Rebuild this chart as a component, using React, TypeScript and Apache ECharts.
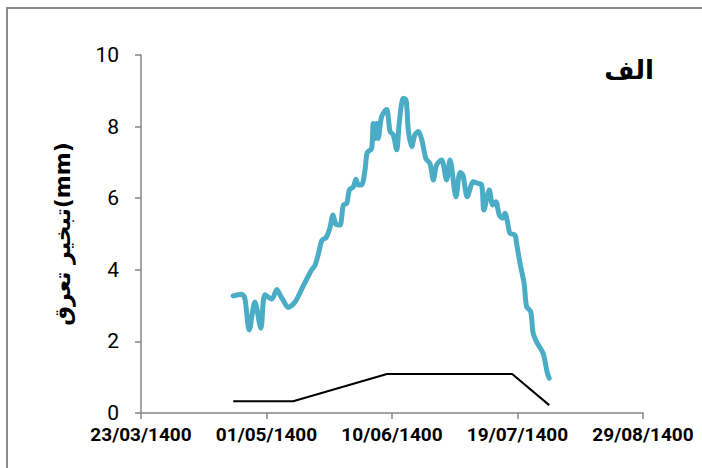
import React, { useEffect, useRef } from "react";
import * as echarts from "echarts";

// x = days after 23/03/1400
const tickLabels = ["23/03/1400", "01/05/1400", "10/06/1400", "19/07/1400", "29/08/1400"];
const yTicks = [0, 2, 4, 6, 8, 10];

const etDays = [
  29.4, 32.1, 33.1, 34.5, 36.3, 38.2, 39.5, 41.7, 43.3, 44.3, 45.3, 46.9, 49.1, 51.6, 54.4,
  55.5, 56.7, 57.7, 59.0, 60.2, 61.2, 62.1, 63.4, 64.5, 65.6, 66.4, 67.7, 68.5, 69.3, 70.3,
  71.4, 72.1, 73.5, 74.0, 74.6, 75.1, 75.6, 76.7, 78.3, 78.8, 79.4, 80.4, 81.5, 82.3, 83.6,
  84.5, 85.2, 86.3, 87.3, 88.4, 89.5, 90.8, 92.1, 93.2, 94.2, 95.8, 97.4, 98.5, 100.4, 101.7,
  102.6, 104.0, 105.9, 107.5, 108.6, 109.3, 111.0, 112.1, 113.1, 114.2, 115.3, 116.0, 117.1,
  117.6, 119.2, 119.7, 120.8, 122.1, 122.9, 124.2, 125.0, 126.3, 128.2, 129.3, 130.1,
];
const etValues = [
  3.27, 3.32, 3.2, 2.32, 3.1, 2.37, 3.3, 3.18, 3.45, 3.3, 3.15, 2.95, 3.1, 3.53, 4.0,
  4.13, 4.5, 4.83, 4.9, 5.17, 5.53, 5.28, 5.25, 5.81, 5.86, 6.23, 6.32, 6.53, 6.37, 6.37,
  6.79, 7.27, 7.39, 8.09, 7.67, 8.09, 7.67, 8.28, 8.48, 8.28, 7.86, 7.77, 7.35, 8.09, 8.79,
  8.74, 7.9, 7.44, 7.77, 7.86, 7.63, 7.11, 6.97, 6.51, 6.93, 7.07, 6.51, 7.07, 6.04, 6.72,
  6.65, 6.04, 6.46, 6.41, 6.37, 5.67, 6.23, 5.81, 5.9, 5.53, 5.44, 5.58, 5.2,
  5.02, 4.97, 4.74, 4.18, 3.62, 2.97, 2.83, 2.23, 1.95, 1.66, 1.2, 0.97,
];

const blackDays = [29.4, 48.5, 78.4, 118.3, 130.1];
const blackValues = [0.33, 0.33, 1.09, 1.09, 0.22];

const yAxisName = "تبخیر تعرق(mm)";
const panelLabel = "الف";

export default function App() {
  const ref = useRef<HTMLDivElement>(null);
  useEffect(() => {
    if (!ref.current) return;
    const chart = echarts.init(ref.current, null, { renderer: "svg" });
    const axisGray = "#868686";
    chart.setOption({
      animation: false,
      backgroundColor: "#ffffff",
      grid: { left: 141, right: 59, top: 55, bottom: 55, containLabel: false },
      graphic: [
        {
          type: "rect",
          shape: { x: 7, y: 8, width: 1000, height: 1000 },
          style: { fill: "none", stroke: "#8c8c8c", lineWidth: 2 },
          silent: true,
        },
        {
          type: "text",
          x: 629,
          y: 70,
          style: {
            text: panelLabel,
            fontSize: 26,
            fontWeight: "bold",
            fontFamily: "'DejaVu Sans', sans-serif",
            fill: "#000",
            align: "center",
            verticalAlign: "middle",
          },
        },
      ],
      xAxis: {
        type: "value",
        min: 0,
        max: 160,
        interval: 40,
        axisLine: { show: true, lineStyle: { color: axisGray, width: 1.5 } },
        axisTick: { show: true, length: 6, lineStyle: { color: axisGray, width: 1.5 } },
        splitLine: { show: false },
        axisLabel: {
          margin: 12,
          fontSize: 19,
          fontWeight: "bold",
          fontFamily: "Roboto, sans-serif",
          color: "#000",
          formatter: (v: number) => tickLabels[Math.round(v / 40)] ?? "",
        },
      },
      yAxis: {
        type: "value",
        min: 0,
        max: 10,
        interval: 2,
        name: yAxisName,
        nameLocation: "middle",
        nameGap: 68,
        nameRotate: 90,
        nameTextStyle: {
          fontSize: 22,
          fontWeight: "bold",
          fontFamily: "'DejaVu Sans', sans-serif",
          color: "#000",
        },
        axisLine: { show: true, lineStyle: { color: axisGray, width: 1.5 } },
        axisTick: { show: true, length: 6, lineStyle: { color: axisGray, width: 1.5 } },
        splitLine: { show: false },
        axisLabel: {
          margin: 22,
          fontSize: 21,
          fontFamily: "Roboto, sans-serif",
          color: "#000",
          formatter: (v: number) => (yTicks.includes(v) ? String(v) : ""),
        },
      },
      series: [
        {
          type: "line",
          data: etDays.map((d, i) => [d, etValues[i]]),
          showSymbol: false,
          smooth: 0.3,
          lineStyle: { color: "#4BACC6", width: 5, cap: "round", join: "round" },
          z: 3,
        },
        {
          type: "line",
          data: blackDays.map((d, i) => [d, blackValues[i]]),
          showSymbol: false,
          lineStyle: { color: "#000000", width: 2 },
          z: 2,
        },
      ],
    });
    return () => chart.dispose();
  }, []);
  return (
    <div
      ref={ref}
      style={{ position: "absolute", left: 0, top: 0, width: 702, height: 468 }}
    />
  );
}
